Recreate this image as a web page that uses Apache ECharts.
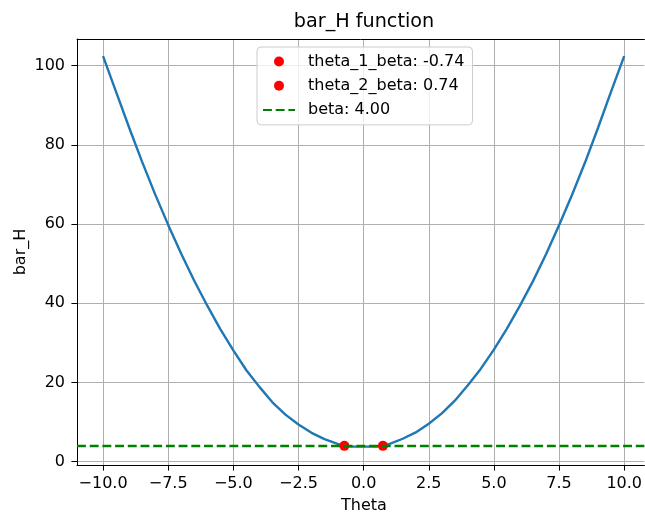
<!DOCTYPE html>
<html>
<head>
<meta charset="utf-8">
<script src="https://cdn.jsdelivr.net/npm/echarts@6/dist/echarts.min.js"></script>
<style>
html,body{margin:0;padding:0;background:#fff;overflow:hidden;}
#chart{width:645px;height:513px;}
</style>
</head>
<body>
<div id="chart"></div>
<script>
// Data
var thetaValues = [-10, -9.5, -9, -8.5, -8, -7.5, -7, -6.5, -6, -5.5, -5, -4.5, -4, -3.5, -3, -2.5, -2, -1.5, -1, -0.74, -0.5, 0, 0.5, 0.74, 1, 1.5, 2, 2.5, 3, 3.5, 4, 4.5, 5, 5.5, 6, 6.5, 7, 7.5, 8, 8.5, 9, 9.5, 10];
var barHValues  = [102.4, 93.4, 84.4, 75.7, 67.5, 59.8, 52.5, 45.7, 39.4, 33.5, 28.1, 23.1, 18.9, 15.0, 11.9, 9.4, 7.3, 5.7, 4.5, 4.0, 3.85, 3.8, 3.85, 4.0, 4.5, 5.8, 7.4, 9.6, 12.2, 15.4, 19.3, 23.5, 28.3, 33.6, 39.4, 45.6, 52.4, 59.7, 67.4, 75.6, 84.4, 93.5, 102.4];
var theta1Beta = -0.74;
var theta2Beta = 0.74;
var beta = 4.00;
var xTicks = [-10, -7.5, -5, -2.5, 0, 2.5, 5, 7.5, 10];
var yTicks = [0, 20, 40, 60, 80, 100];

var FONT = 'DejaVu Sans';
var curve = thetaValues.map(function (t, i) { return [t, barHValues[i]]; });

var chart = echarts.init(document.getElementById('chart'), null, {renderer: 'canvas'});
function fmtX(v) {
  return (v < 0 ? '\u2212' : '') + Math.abs(v).toFixed(1);
}
var dash = [8.9, 3.8];
var option = {
  animation: false,
  backgroundColor: '#ffffff',
  grid: {left: 77, top: 39, width: 568, height: 426, show: false},
  xAxis: [{
    type: 'value', min: -11, max: 10.775,
    axisLine: {show: true, onZero: false, lineStyle: {color: '#000', width: 1}},
    axisTick: {show: true, inside: false, length: 5.6, lineStyle: {color: '#000', width: 1}, customValues: xTicks},
    axisLabel: {customValues: xTicks, formatter: fmtX, fontFamily: FONT, fontSize: 16, color: '#000', margin: 11},
    splitLine: {show: true, lineStyle: {color: '#b0b0b0', width: 1}}
  }, {
    type: 'value', position: 'top', min: -11, max: 10.775,
    axisLine: {show: true, onZero: false, lineStyle: {color: '#000', width: 1}},
    axisTick: {show: false}, axisLabel: {show: false}, splitLine: {show: false}
  }],
  yAxis: {
    type: 'value', min: -0.83, max: 106.74,
    axisLine: {show: true, onZero: false, lineStyle: {color: '#000', width: 1}},
    axisTick: {show: true, inside: false, length: 5.6, lineStyle: {color: '#000', width: 1}, customValues: yTicks},
    axisLabel: {customValues: yTicks, formatter: function (v) { return String(Math.round(v)); }, fontFamily: FONT, fontSize: 16, color: '#000', margin: 12},
    splitLine: {show: true, lineStyle: {color: '#b0b0b0', width: 1}}
  },
  legend: {
    data: [
      {name: 'theta_1_beta: ' + theta1Beta.toFixed(2)},
      {name: 'theta_2_beta: ' + theta2Beta.toFixed(2)},
      {name: 'beta: ' + beta.toFixed(2), itemStyle: {opacity: 0}}
    ],
    orient: 'vertical',
    left: 257, top: 47,
    padding: [6.5, 8, 7, 5],
    itemGap: 8.2,
    itemWidth: 32, itemHeight: 10,
    backgroundColor: 'rgba(255,255,255,0.8)',
    borderColor: '#cccccc', borderWidth: 1, borderRadius: 4,
    textStyle: {fontFamily: FONT, fontSize: 16, color: '#000', padding: [0, 0, 0, 8]}
  },
  graphic: [
    {type: 'text', x: 364, y: 22, style: {text: 'bar_H function', font: '19.2px "DejaVu Sans"', fill: '#000', textAlign: 'center', textVerticalAlign: 'middle'}},
    {type: 'text', x: 364, y: 506, style: {text: 'Theta', font: '16px "DejaVu Sans"', fill: '#000', textAlign: 'center', textVerticalAlign: 'middle'}},
    {type: 'text', x: 21, y: 252, rotation: Math.PI / 2, style: {text: 'bar_H', font: '16px "DejaVu Sans"', fill: '#000', textAlign: 'center', textVerticalAlign: 'middle'}}
  ],
  series: [
    {
      name: 'curve', type: 'line', data: curve, showSymbol: false, symbol: 'none',
      lineStyle: {color: '#1f77b4', width: 2.4}, itemStyle: {color: '#1f77b4'}, z: 3
    },
    {
      name: 'beta: ' + beta.toFixed(2), type: 'line', data: [], symbol: 'none', showSymbol: false,
      lineStyle: {color: '#008000', width: 2.4, type: dash}, itemStyle: {color: '#008000'},
      markLine: {
        silent: true, symbol: ['none', 'none'], label: {show: false},
        lineStyle: {color: '#008000', width: 2.4, type: dash},
        data: [{yAxis: beta}]
      },
      z: 2
    },
    {
      name: 'theta_1_beta: ' + theta1Beta.toFixed(2), type: 'scatter', data: [[theta1Beta, beta]],
      symbol: 'circle', symbolSize: 10, itemStyle: {color: '#ff0000', opacity: 1}, z: 4
    },
    {
      name: 'theta_2_beta: ' + theta2Beta.toFixed(2), type: 'scatter', data: [[theta2Beta, beta]],
      symbol: 'circle', symbolSize: 10, itemStyle: {color: '#ff0000', opacity: 1}, z: 4
    }
  ]
};
chart.setOption(option);
</script>
</body>
</html>
